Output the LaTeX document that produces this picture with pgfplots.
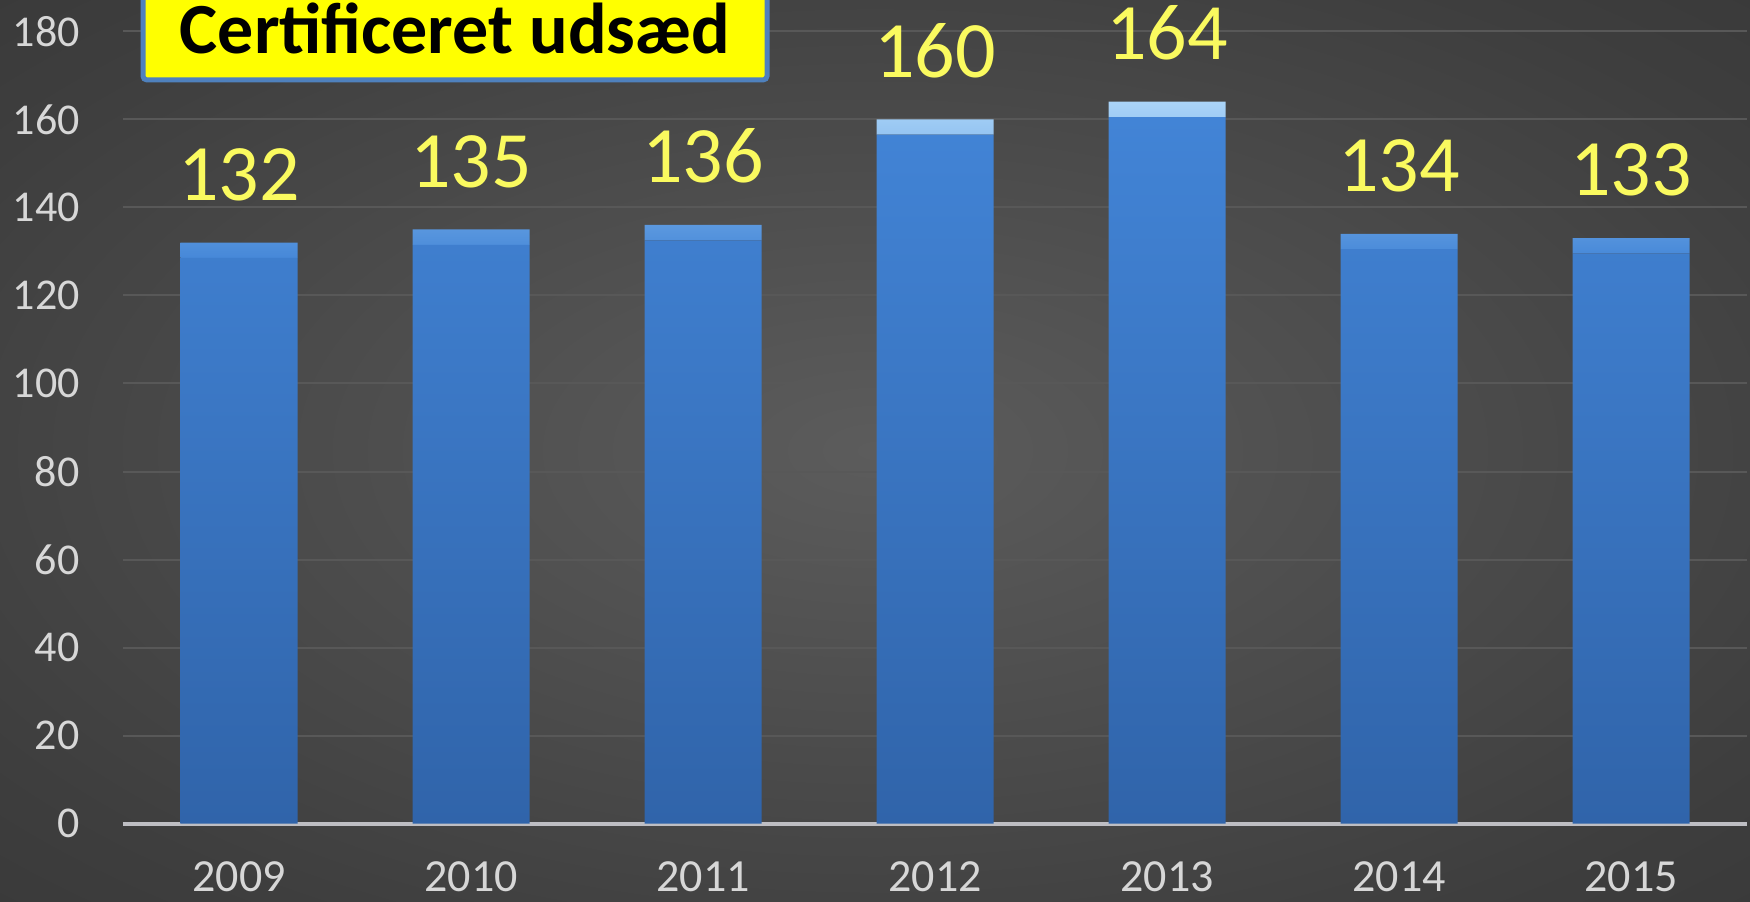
\documentclass[border=0pt]{standalone}
\usepackage{fontspec}
\setmainfont{Carlito}
\usepackage{pgfplots}
\usepackage{pgfplotstable}
\pgfplotsset{compat=1.18}

\definecolor{bgin}{RGB}{92,92,92}
\definecolor{bgmid}{RGB}{62,62,62}
\definecolor{bgout}{RGB}{34,34,34}
\definecolor{gridc}{RGB}{88,88,88}
\definecolor{tickc}{RGB}{215,215,215}
\definecolor{basec}{RGB}{190,190,195}
\definecolor{bartop}{RGB}{66,132,214}
\definecolor{barbot}{RGB}{48,100,170}
\definecolor{capt}{RGB}{170,212,248}
\definecolor{capb}{RGB}{70,136,216}
\definecolor{labc}{RGB}{250,250,95}
\definecolor{boxblue}{RGB}{79,129,189}
\definecolor{boxfill}{RGB}{255,255,0}

\pgfdeclareradialshading{bgshade}{\pgfpoint{0bp}{0bp}}{%
  color(0bp)=(bgin); color(30bp)=(bgmid); color(70bp)=(bgout)}

% year, value, bar body and bevelled cap (body + cap = value)
\pgfplotstableread{
x year value body cap
0 2009 132 128.5 3.5
1 2010 135 131.5 3.5
2 2011 136 132.5 3.5
3 2012 160 156.5 3.5
4 2013 164 160.5 3.5
5 2014 134 130.5 3.5
6 2015 133 129.5 3.5
}\data

\begin{document}
\begin{tikzpicture}
\shade[shading=bgshade] (0,0) rectangle (875pt,450.5pt);
\begin{axis}[
    at={(61.5pt,38.65pt)}, anchor=south west,
    scale only axis, width=812pt, height=411.85pt,
    xmin=-0.5, xmax=6.5, ymin=0, ymax=187.1,
    ybar stacked, bar width=58.5pt,
    axis line style={draw=none},
    tick style={draw=none}, major tick length=0pt,
    ytick={0,20,...,180},
    xtick={0,...,6},
    xticklabels={2009,2010,2011,2012,2013,2014,2015},
    ymajorgrids, major grid style={gridc, line width=1pt},
    yticklabel style={font=\fontsize{22}{22}\selectfont, color=tickc,
        inner sep=0pt, anchor=east, xshift=-21.5pt},
    xticklabel style={font=\fontsize{23}{23}\selectfont, color=tickc,
        inner sep=0pt, anchor=north, yshift=-19pt},
    /pgf/number format/assume math mode=true,
    clip=false,
]
\addplot[draw=none, top color=bartop, bottom color=barbot]
    table[x=x, y=body] {\data};
\addplot[draw=none, top color=capt, bottom color=capb,
    point meta=explicit,
    nodes near coords,
    every node near coord/.append style={font=\fontsize{40}{40}\selectfont,
        color=labc, inner sep=0pt, anchor=south, yshift=24.5pt}]
    table[x=x, y=cap, meta=value] {\data};
\draw[basec, line width=2pt] (axis cs:-0.5,0) -- (axis cs:6.5,0);
\end{axis}
\draw[line width=2.5pt, draw=boxblue, fill=boxfill, rounded corners=2pt]
    (71.5pt,410.5pt) rectangle (383.5pt,462pt);
\node[black, font=\fontsize{36}{36}\selectfont\bfseries]
    at (227.5pt,436.5pt) {Certificeret udsæd};
\pgfresetboundingbox
\path (0,0) rectangle (875pt,450.5pt);
\end{tikzpicture}
\end{document}
